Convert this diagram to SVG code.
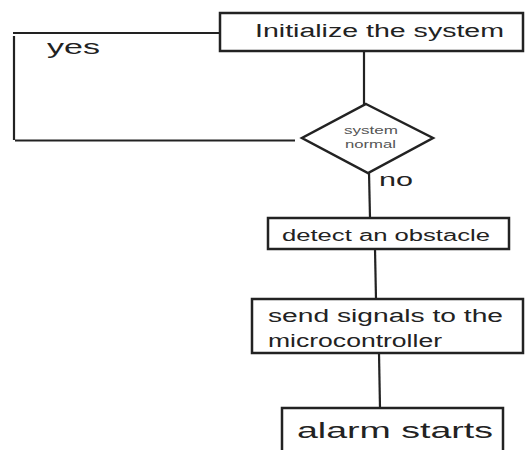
<svg xmlns="http://www.w3.org/2000/svg" width="525" height="450" viewBox="0 0 525 450">
<style>
.box{fill:#fff;stroke:#222;stroke-width:2.5}
.ln{fill:none;stroke:#222;stroke-width:2.2}
.t{font-family:"Liberation Sans",Arial,sans-serif;fill:#222}
.s{font-family:"Liberation Sans",Arial,sans-serif;fill:#555;font-size:11px}
</style>
<rect width="525" height="450" fill="#fff"/>
<g id="connectors">
<path class="ln" d="M226 33 L13 33"/>
<path class="ln" d="M14 36 L14 140"/>
<path class="ln" d="M15 140.5 L295 140.5"/>
<path class="ln" d="M364 51 L364 105"/>
<path class="ln" d="M369 172 L370 218"/>
<path class="ln" d="M375 249 L376 299"/>
<path class="ln" d="M379 353 L380 408"/>
<text class="t" x="47" y="54" font-size="21" textLength="53" lengthAdjust="spacingAndGlyphs">yes</text>
<text class="t" x="379" y="186" font-size="19" textLength="34" lengthAdjust="spacingAndGlyphs">no</text>
</g>
<g id="init">
<rect class="box" x="220" y="13" width="303" height="38"/>
<text class="t" x="255" y="37" font-size="18" textLength="249" lengthAdjust="spacingAndGlyphs">Initialize the system</text>
</g>
<g id="decision">
<polygon class="box" points="366,104 433,138 368,173 302,138"/>
<text class="s" x="344" y="134" textLength="54" lengthAdjust="spacingAndGlyphs">system</text>
<text class="s" x="345" y="148" textLength="51" lengthAdjust="spacingAndGlyphs">normal</text>
</g>
<g id="detect">
<rect class="box" x="268" y="218" width="241" height="31"/>
<text class="t" x="282" y="241" font-size="16" textLength="208" lengthAdjust="spacingAndGlyphs">detect an obstacle</text>
</g>
<g id="send">
<rect class="box" x="252" y="299" width="271" height="54"/>
<text class="t" x="268" y="322" font-size="18" textLength="235" lengthAdjust="spacingAndGlyphs">send signals to the</text>
<text class="t" x="268" y="347" font-size="18" textLength="174" lengthAdjust="spacingAndGlyphs">microcontroller</text>
</g>
<g id="alarm">
<rect class="box" x="282" y="408" width="221" height="60"/>
<text class="t" x="297" y="438" font-size="22" textLength="196" lengthAdjust="spacingAndGlyphs">alarm starts</text>
</g>
</svg>
